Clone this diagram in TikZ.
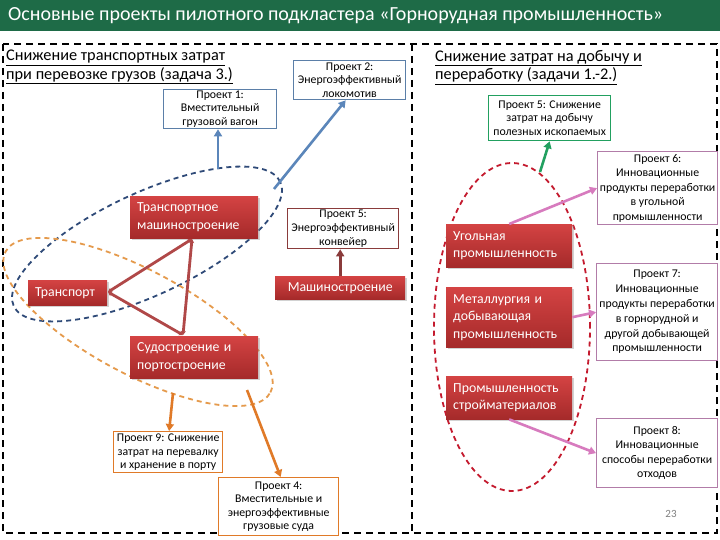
\documentclass[tikz,border=0pt]{standalone}
\usepackage{fontspec}
\setmainfont{Carlito}
\usetikzlibrary{shapes.geometric,arrows.meta,shadows,calc}
\definecolor{titlegreen}{HTML}{1E6B47}
\definecolor{navy}{HTML}{2F4A78}
\definecolor{ellorange}{HTML}{E59A4C}
\definecolor{ellred}{HTML}{C41A2E}
\definecolor{steel}{HTML}{5B86BA}
\definecolor{steelbox}{HTML}{5B7FA8}
\definecolor{brownred}{HTML}{8A3B3B}
\definecolor{orangebox}{HTML}{E07A28}
\definecolor{greenbox}{HTML}{22A060}
\definecolor{pinkarrow}{HTML}{D77BBE}
\definecolor{pinkbox}{HTML}{B27CA8}
\definecolor{redtop}{HTML}{D44343}
\definecolor{redbot}{HTML}{A52A2A}
\definecolor{triline}{HTML}{B04848}
\begin{document}
\begin{tikzpicture}[x=1pt,y=-1pt,
  projbox/.style={draw,line width=1.3pt,fill=white,align=center,anchor=north west,
    inner sep=0pt,font=\fontsize{11.8}{13.6}\selectfont},
  redbox/.style={anchor=north west,top color=redtop,bottom color=redbot,draw=none,
    text=white,align=left,inner xsep=7pt,inner ysep=2pt,
    font=\fontsize{13.8}{17.5}\selectfont,drop shadow={shadow xshift=1.5pt,shadow yshift=-1.5pt,opacity=.35}},
  dashell/.style={ellipse,draw,line width=1.8pt,dash pattern=on 5pt off 4pt,inner sep=0pt},
  arr/.style={line width=2.6pt,-{Triangle[length=7pt,width=8pt]}},
  triarr/.style={line width=2.8pt,color=triline,{Stealth[length=4pt,width=5pt]}-{Stealth[length=4pt,width=5pt]}},
  heading/.style={anchor=north west,align=left,inner sep=0pt,font=\fontsize{16.3}{18.5}\selectfont}]
\useasboundingbox (0,0) rectangle (720,540);
\fill[white] (0,0) rectangle (720,540);
% title
\fill[titlegreen] (0,0) rectangle (720,31);
\node[anchor=west,text=white,font=\fontsize{20}{22}\selectfont,inner sep=0pt] (title) at (8,16)
  {Основные проекты пилотного подкластера «Горнорудная промышленность»};
% frames
\draw[line width=2pt,dash pattern=on 7pt off 5pt] (3,44) rectangle (717,533);
\draw[line width=2pt,dash pattern=on 7pt off 5pt] (412,44) -- (412,533);
% headings
\node[heading] (h1) at (6,50) {\underline{Снижение транспортных затрат}\\\underline{при перевозке грузов (задача 3.)}};
\node[heading] (h2) at (435,50) {\underline{Снижение затрат на добычу и}\\\underline{переработку (задачи 1.-2.)}};
% ellipses
\node[dashell,draw=navy,minimum width=294pt,minimum height=102pt,rotate=25] (blueell) at (147,244) {};
\node[dashell,draw=ellorange,minimum width=300pt,minimum height=104pt,rotate=-28] (orell) at (138,322) {};
\node[dashell,draw=ellred,minimum width=156pt,minimum height=328pt] (redell) at (512,327) {};
% red boxes
\node[redbox,minimum width=128pt,minimum height=42pt,text width=114pt] (trmash) at (130,196) {Транспортное\\машиностроение};
\node[redbox,minimum width=79pt,minimum height=25pt,text width=65pt] (transp) at (28,280) {Транспорт};
\node[redbox,minimum width=128pt,minimum height=42pt,text width=114pt] (sudo) at (130,336) {Судостроение и\\портостроение};
\node[redbox,minimum width=130pt,minimum height=23pt,text width=116pt,align=center] (mash) at (275,276) {Машиностроение};
\node[redbox,minimum width=126pt,minimum height=43pt,text width=112pt] (coal) at (446,224) {Угольная\\промышленность};
\node[redbox,minimum width=126pt,minimum height=60pt,text width=112pt] (metal) at (446,287) {Металлургия и\\добывающая\\промышленность};
\node[redbox,minimum width=126pt,minimum height=43pt,text width=112pt] (stroy) at (446,376) {Промышленность\\стройматериалов};
% project boxes
\node[projbox,draw=steelbox,minimum width=113pt,minimum height=39pt] (p1) at (163,89) {Проект 1:\\Вместительный\\грузовой вагон};
\node[projbox,draw=steelbox,minimum width=112pt,minimum height=39pt] (p2) at (293,60) {Проект 2:\\Энергоэффективный\\локомотив};
\node[projbox,draw=brownred,minimum width=111pt,minimum height=40pt] (p5c) at (287,208) {Проект 5:\\Энергоэффективный\\конвейер};
\node[projbox,draw=orangebox,minimum width=109pt,minimum height=41pt] (p9) at (113,431) {Проект 9: Снижение\\затрат на перевалку\\и хранение в порту};
\node[projbox,draw=orangebox,minimum width=120pt,minimum height=58pt] (p4) at (218,477) {Проект 4:\\Вместительные и\\энергоэффективные\\грузовые суда};
\node[projbox,draw=greenbox,minimum width=122pt,minimum height=45pt] (p5g) at (488,95) {Проект 5: Снижение\\затрат на добычу\\полезных ископаемых};
\node[projbox,draw=pinkbox,minimum width=120pt,minimum height=73pt,font=\fontsize{11.8}{14.5}\selectfont] (p6) at (597,151) {Проект 6:\\Инновационные\\продукты переработки\\в угольной\\промышленности};
\node[projbox,draw=pinkbox,minimum width=121pt,minimum height=97pt,font=\fontsize{11.8}{14.8}\selectfont] (p7) at (596,263) {Проект 7:\\Инновационные\\продукты переработки\\в горнорудной и\\другой добывающей\\промышленности};
\node[projbox,draw=pinkbox,minimum width=121pt,minimum height=69pt,font=\fontsize{11.8}{14.5}\selectfont] (p8) at (596,418) {Проект 8:\\Инновационные\\способы переработки\\отходов};
% connector coordinates
\coordinate (b1) at (218,169);
\coordinate (b2) at (274,189);
\coordinate (o1) at (173,393);
\coordinate (o2) at (247,390);
\coordinate (r1) at (540,172);
\coordinate (tv1) at (192,239);
\coordinate (tv2) at (108,292);
\coordinate (tv3) at (183,335);
% triangle
\draw[triarr] (tv2) -- (tv1);
\draw[triarr] (tv2) -- (tv3);
\draw[triarr] (tv1) -- (tv3);
% arrows
\draw[arr,steel] (b1) -- (b1 |- p1.south);
\draw[arr,steel] (b2) -- ($(p2.south)+(-4,0)$);
\draw[arr,brownred] (mash.north) -- (mash.north |- p5c.south);
\draw[arr,orangebox] (o1) -- ($(p9.north)+(1,0)$);
\draw[arr,orangebox] (o2) -- ($(p4.north)+(2,0)$);
\draw[arr,greenbox] (r1) -- (p5g.south);
\draw[arr,pinkarrow] (coal.north) -- (p6.west);
\draw[arr,pinkarrow] (metal.east) -- (p7.west);
\draw[arr,pinkarrow] (stroy.south) -- (p8.west);
% page number
\node[text=gray,font=\fontsize{11}{12}\selectfont] (pg) at (671,514) {23};
\end{tikzpicture}
\end{document}
